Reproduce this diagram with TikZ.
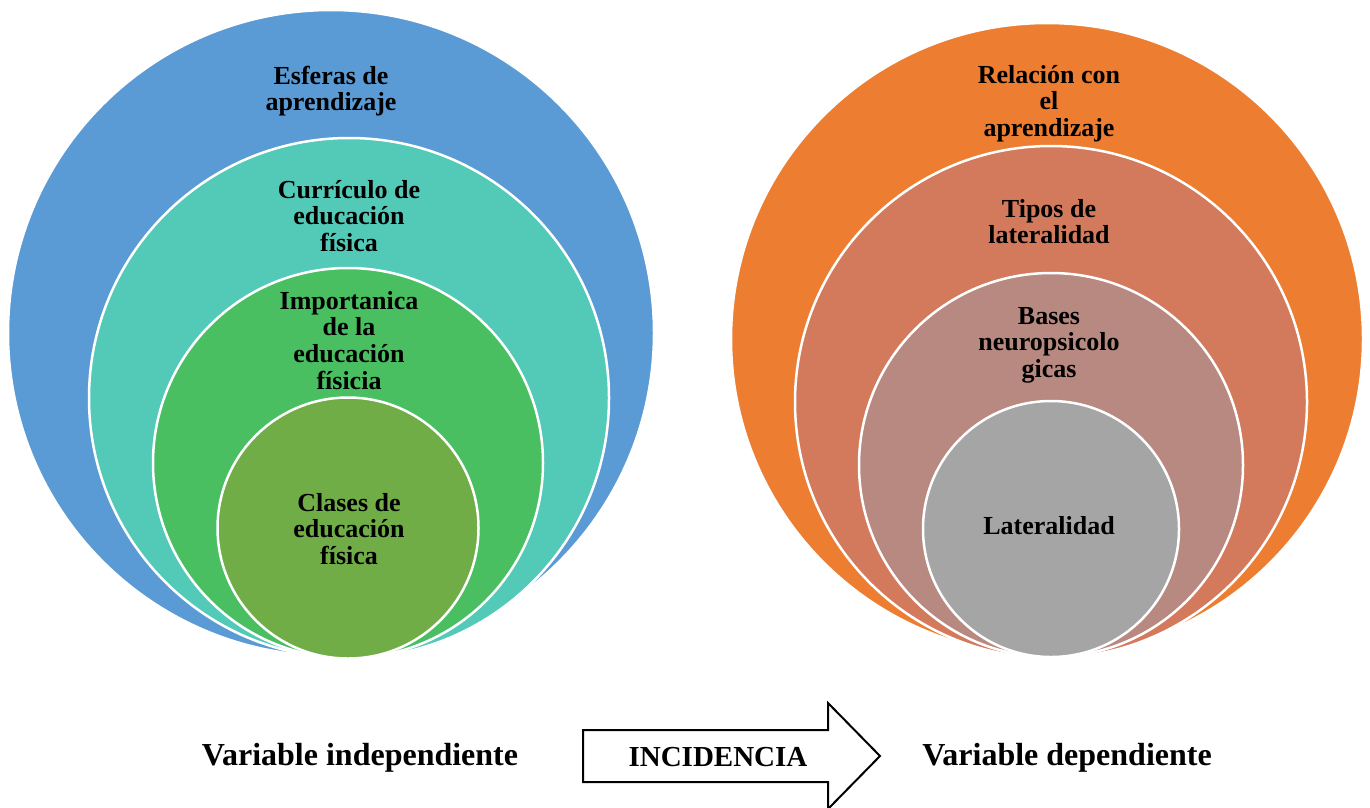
\documentclass[tikz,border=0pt]{standalone}
\usepackage{fontspec}
\setmainfont{Liberation Serif}
\usetikzlibrary{positioning}

\definecolor{esfera}{HTML}{5B9BD5}
\definecolor{curri}{HTML}{53C9B7}
\definecolor{impor}{HTML}{4ABF62}
\definecolor{clase}{HTML}{70AD47}
\definecolor{relac}{HTML}{ED7D31}
\definecolor{tipos}{HTML}{D37A5C}
\definecolor{bases}{HTML}{B88980}
\definecolor{later}{HTML}{A5A5A5}

\begin{document}
\begin{tikzpicture}[x=1pt,y=-1pt,
		ring/.style={circle, draw=white, line width=2.5pt, inner sep=0pt, minimum size=#1},
		ringtext/.style={align=center, anchor=north, inner sep=0pt, font=\bfseries\fontsize{26}{26.7}\selectfont},
		vartext/.style={anchor=base, inner sep=0pt, font=\bfseries\fontsize{32}{36}\selectfont}]
	\useasboundingbox (0,0) rectangle (1370,807);

	% variable independiente
	\node[ring=646pt, fill=esfera] (esf) at (331,333) {};
	\node[ring=520pt, fill=curri] (cur) at (349,398) {};
	\node[ring=390pt, fill=impor] (imp) at (348,463) {};
	\node[ring=261pt, fill=clase] (cla) at (348,528) {};
	\node[ringtext] (esf-t) at (331,65.5) {Esferas de\\aprendizaje};
	\node[ringtext] (cur-t) at (349,180) {Currículo de\\educación\\física};
	\node[ringtext] (imp-t) at (349,291) {Importanica\\de la\\educación\\físicia};
	\node[ringtext] (cla-t) at (349,493) {Clases de\\educación\\física};

	% variable dependiente
	\node[ring=632pt, fill=relac] (rel) at (1047,339) {};
	\node[ring=512pt, fill=tipos] (tip) at (1051,402) {};
	\node[ring=384pt, fill=bases] (bas) at (1051,465) {};
	\node[ring=256pt, fill=later] (lat) at (1051,529) {};
	\node[ringtext] (rel-t) at (1049,65) {Relación con\\el\\aprendizaje};
	\node[ringtext] (tip-t) at (1049,199) {Tipos de\\lateralidad};
	\node[ringtext] (bas-t) at (1049,307) {Bases\\neuropsicolo\\gicas};
	\node[ringtext] (lat-t) at (1049,516) {Lateralidad};

	% flecha
	\draw[line width=2pt, fill=white] (583,730) -- (828,730) -- (828,703) -- (880,756)
		-- (828,809) -- (828,782) -- (583,782) -- cycle;
	\node[anchor=base, inner sep=0pt, font=\bfseries\fontsize{29}{32}\selectfont] (inc) at (718,766.7) {INCIDENCIA};

	\node[vartext] (vi) at (360,765) {Variable independiente};
	\node[vartext] (vd) at (1067,765) {Variable dependiente};
\end{tikzpicture}
\end{document}
